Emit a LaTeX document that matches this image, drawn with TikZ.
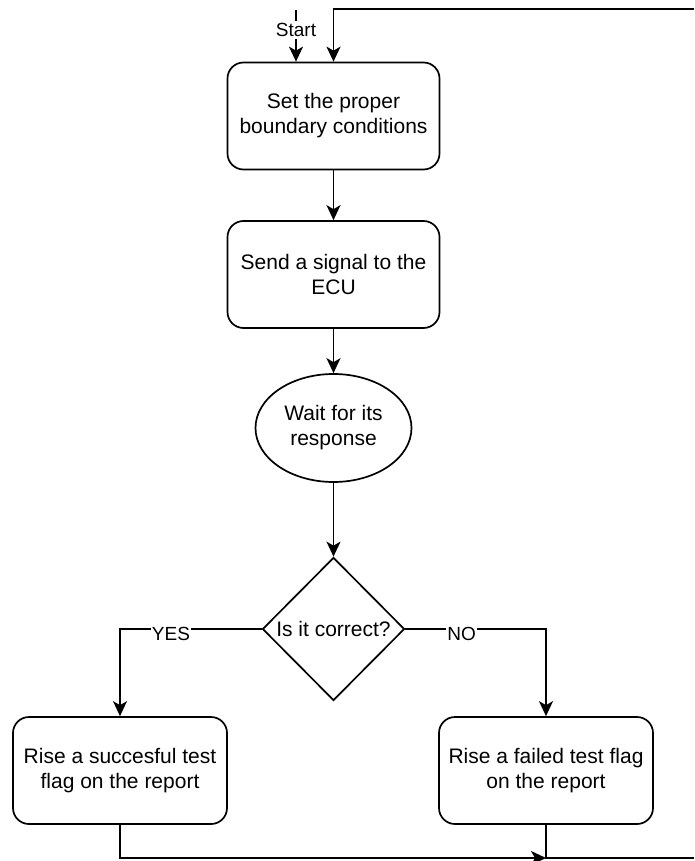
\documentclass[tikz,border=0pt]{standalone}
\usepackage{fontspec}
\setmainfont{Liberation Sans}
\usetikzlibrary{arrows.meta,shapes.geometric}

\begin{document}
\begin{tikzpicture}[x=1pt,y=-1pt,
  every node/.style={font=\fontsize{21}{25}\selectfont, align=center},
  line/.style={draw=black, line width=1.7pt},
  arr/.style={line, -{Stealth[length=15pt,width=14pt,inset=4pt]}},
  stepbox/.style={line, rounded corners=16pt, minimum width=212pt, minimum height=107pt, inner sep=0pt},
  waitbox/.style={line, ellipse, minimum width=156pt, minimum height=108pt, inner sep=0pt},
  decision/.style={line, diamond, minimum width=142pt, minimum height=143pt, inner sep=0pt},
  edgelabel/.style={font=\fontsize{19}{22}\selectfont, fill=white, inner sep=1pt}
]
\useasboundingbox (0,0) rectangle (694,861);

% process steps
\node[stepbox] (setbc) at (333.5,116) {Set the proper\\boundary conditions};
\node[stepbox] (send) at (333.5,274.5) {Send a signal to the\\ECU};
\node[waitbox] (wait) at (333.5,428) {Wait for its\\response};
\node[decision] (check) at (333.5,629) {Is it correct?};
\node[stepbox, minimum width=214pt, minimum height=107pt] (pass) at (120,770.5) {Rise a succesful test\\flag on the report};
\node[stepbox, minimum width=214pt, minimum height=107pt] (fail) at (546,770.5) {Rise a failed test flag\\on the report};

% loose ends of the connectors
\coordinate (start) at (296,10);
\coordinate (loopin) at (694,9);
\coordinate (merge) at (546,858);
\coordinate (loopout) at (694,858);

% entry and loop back to the first step
\draw[arr] (start) -- (start |- setbc.north)
  node[pos=0.39, edgelabel, inner sep=2pt] {Start};
\draw[arr] (loopin) -| (setbc.north);

% main sequence
\draw[arr] (setbc) -- (send);
\draw[arr] (send) -- (wait);
\draw[arr] (wait) -- (check);

% decision branches
\draw[arr] (check.west) -| (pass.north)
  node[pos=0.32, edgelabel, yshift=-5pt] {YES};
\draw[arr] (check.east) -| (fail.north)
  node[pos=0.2, edgelabel, yshift=-5pt] {NO};

% results join and return
\draw[arr] (pass.south) |- (merge);
\draw[line] (fail.south) |- (loopout);
\end{tikzpicture}
\end{document}
